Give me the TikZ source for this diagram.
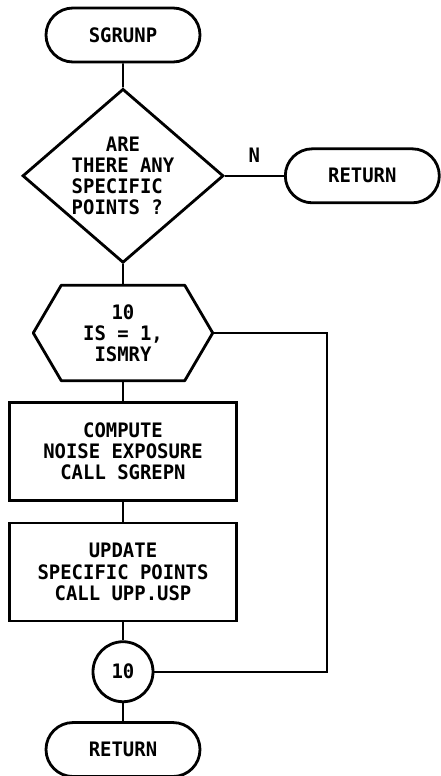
\documentclass[tikz,border=0pt]{standalone}
\usepackage{fontspec}
\newfontfamily\plotfont[FakeStretch=0.95]{DejaVu Sans Mono}
\newcommand\chartfont{\plotfont\bfseries\fontsize{17pt}{18pt}\selectfont}
\usepackage{tikz}
\usetikzlibrary{positioning,calc,shapes.geometric,shapes.misc}
\tikzset{
  term/.style={draw,rounded rectangle,line width=2.4pt,minimum width=4.62cm,minimum height=1.62cm,inner sep=0pt,font=\chartfont},
  decide/.style={draw,diamond,aspect=1.155,line width=2.4pt,minimum width=6.03cm,minimum height=5.22cm,inner sep=-4pt,align=left,font=\chartfont},
  loopbox/.style={rectangle,minimum width=5.37cm,minimum height=2.85cm,inner sep=0pt,align=center,font=\chartfont},
  proc/.style={draw,rectangle,line width=2.4pt,minimum width=6.81cm,minimum height=2.94cm,inner sep=0pt,align=center,font=\chartfont},
  conn/.style={draw,circle,line width=2.4pt,minimum size=1.8cm,inner sep=0pt,font=\chartfont},
  link/.style={draw,line width=1.4pt},
}

\begin{document}
\begin{tikzpicture}
\useasboundingbox (-3.69,1.05) rectangle (9.54,-22.23);

% entry and test
\node[term] (start) at (0,0) {SGRUNP};
\node[decide,below=0.72cm of start] (ask) {\phantom{THE}ARE\\THERE ANY\\SPECIFIC\\POINTS ?};
\node[term,right=1.77cm of ask] (noret) {RETURN};

% loop over points
\node[loopbox,below=0.63cm of ask] (loop) {10\\IS = 1,\\ISMRY};
\draw[line width=2.4pt,line join=round] (loop.west) -- ([xshift=0.84cm]loop.north west) -- ([xshift=-0.84cm]loop.north east)
  -- (loop.east) -- ([xshift=-0.84cm]loop.south east) -- ([xshift=0.84cm]loop.south west) -- cycle;
\node[proc,below=0.6cm of loop] (comp) {COMPUTE\\NOISE EXPOSURE\\CALL SGREPN};
\node[proc,below=0.6cm of comp] (upd) {UPDATE\\SPECIFIC POINTS\\CALL UPP.USP};
\node[conn,below=0.54cm of upd] (ten) {10};
\node[term,below=0.54cm of ten] (done) {RETURN};

% connectors
\draw[link] (start) -- (ask);
\draw[link] (ask.east) -- node[above=0.36cm,inner sep=0pt,font=\chartfont] (no) {N} (noret.west);
\draw[link] (ask) -- (loop);
\draw[link] (loop) -- (comp);
\draw[link] (comp) -- (upd);
\draw[link] (upd) -- (ten);
\draw[link] (ten) -- (done);

% return path of the loop
\coordinate (back) at ($(loop.east)+(3.42,0)$);
\draw[link] (loop.east) -- (back) |- (ten.east);
\end{tikzpicture}
\end{document}
